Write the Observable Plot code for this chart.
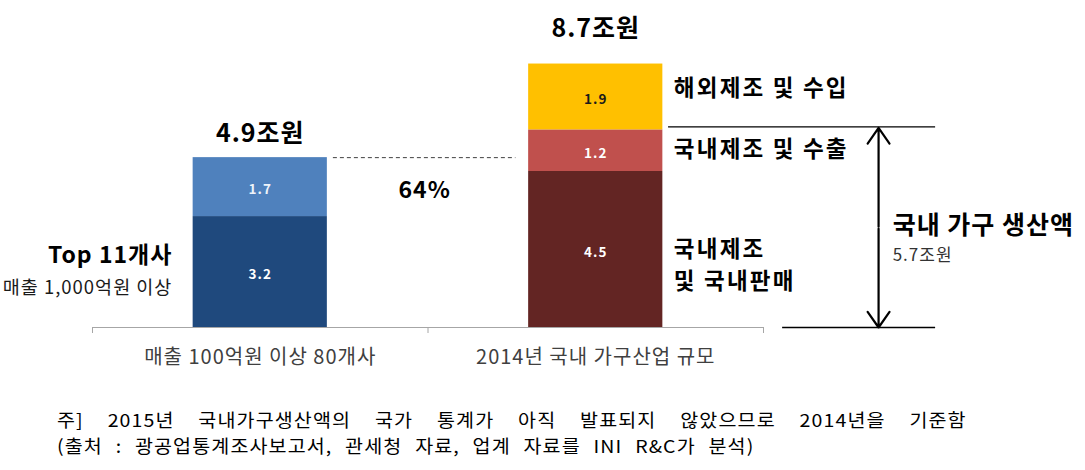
<!DOCTYPE html>
<html><head><meta charset="utf-8">
<script src="https://cdn.jsdelivr.net/npm/d3@7"></script>
<script src="https://cdn.jsdelivr.net/npm/@observablehq/plot@0.6"></script>
<style>
body{margin:0;background:#fff;font-family:"Noto Sans CJK KR","Noto Sans",sans-serif;}
#wrap{position:relative;width:1085px;height:470px;overflow:hidden;}
.note{position:absolute;left:57px;font-size:17.8px;letter-spacing:1px;color:#000;text-align:justify;text-align-last:justify;line-height:26px;height:26px;white-space:nowrap;transform:scaleX(1.1);transform-origin:0 0;}
</style></head><body>
<div id="wrap"><div id="chart"></div>
<div class="note" id="n1" style="top:406px;width:827px"></div>
<div class="note" id="n2" style="top:432px;width:634px"></div>
</div>
<script>
// ---- data ----
const categories = ["매출 100억원 이상 80개사", "2014년 국내 가구산업 규모"];
const leftSegments = ["Top 11개사", "기타"];
const leftValues = [3.2, 1.7];
const rightSegments = ["국내제조 및 국내판매", "국내제조 및 수출", "해외제조 및 수입"];
const rightSegmentLabels = ["국내제조\n및 국내판매", "국내제조 및 수출", "해외제조 및 수입"];
const rightValues = [4.5, 1.2, 1.9];
const totalLabels = ["4.9조원", "8.7조원"];
const shareLabel = "64%";
const topLabel = "Top 11개사";
const topSubLabel = "매출 1,000억원 이상";
const domesticLabel = "국내 가구 생산액";
const domesticValueLabel = "5.7조원";
const noteLines = [
  "주] 2015년 국내가구생산액의 국가 통계가 아직 발표되지 않았으므로 2014년을 기준함",
  "(출처 : 광공업통계조사보고서, 관세청 자료, 업계 자료를 INI R&C가 분석)"
];

// ---- styles ----
const leftColors = ["#1F497D", "#4F81BD"];
const leftInk = ["#ffffff", "#eef3fa"];
const rightColors = ["#632523", "#C0504D", "#FFC000"];
const rightInk = ["#ffffff", "#ffffff", "#1a1a1a"];
const rightLabelDy = [13, -4, -11];
const FONT = '"Noto Sans CJK KR","Noto Sans",sans-serif';
const BAR_LO = 0.3, BAR_HI = 0.7;

function stack(cat, names, values, colors, ink) {
  let acc = 0;
  return values.map((v, i) => { const y1 = acc; acc += v;
    return {cat, name: names[i], value: v, y1, y2: acc, fill: colors[i], ink: ink[i], idx: i}; });
}
const leftRows = stack(0, leftSegments, leftValues, leftColors, leftInk);
const rightRows = stack(1, rightSegments, rightValues, rightColors, rightInk);
const rows = leftRows.concat(rightRows);
const leftTop = d3.sum(leftValues);
const rightTop = d3.sum(rightValues);
const domestic = rightValues[0] + rightValues[1];

const chart = Plot.plot({
  width: 1085, height: 385,
  marginLeft: 92, marginRight: 322, marginTop: 15, marginBottom: 58,
  x: {domain: [0, 2], label: null},
  y: {domain: [0, 9], axis: null},
  color: {type: "identity"},
  style: {fontFamily: FONT, background: "transparent", overflow: "visible", letterSpacing: "1px"},
  marks: [
    Plot.rectY(rows, {x1: d => d.cat + BAR_LO, x2: d => d.cat + BAR_HI, y1: "y1", y2: "y2", fill: "fill"}),
    Plot.ruleY([0], {stroke: "#a6a6a6", strokeWidth: 1.2}),
    Plot.axisX({ticks: [0, 1, 2], tickFormat: () => "", tickSize: 6, stroke: "#a6a6a6", label: null}),
    Plot.text(categories, {x: (d, i) => i + 0.5, y: 0, dy: 30, text: d => d, fontSize: 20, fill: "#404040"}),
    // segment values
    Plot.text(rows, {x: d => d.cat + 0.5, y: d => (d.y1 + d.y2) / 2, dy: 3, text: d => d.value.toFixed(1),
      fill: "ink", fontSize: 13.5, fontWeight: "bold"}),
    // totals
    Plot.text([totalLabels[0]], {x: 0.5, y: leftTop, dy: -24, text: d => d, fontSize: 25, fontWeight: "bold", fill: "#000"}),
    Plot.text([totalLabels[1]], {x: 1.5, y: rightTop, dy: -35, text: d => d, fontSize: 25, fontWeight: "bold", fill: "#000"}),
    // dashed connector and share
    Plot.ruleY([leftTop], {x1: 0.718, x2: 1.262, stroke: "#404040", strokeDasharray: "4,3", strokeWidth: 1}),
    Plot.text([shareLabel], {x: 0.99, y: leftTop, dy: 33, text: d => d, fontSize: 23, fontWeight: "bold", fill: "#000"}),
    // left annotation
    Plot.text([topLabel], {x: 0.238, y: leftRows[0].y2 / 2, dy: -16, text: d => d, textAnchor: "end", fontSize: 23, fontWeight: "bold", fill: "#000"}),
    Plot.text([topSubLabel], {x: 0.238, y: leftRows[0].y2 / 2, dy: 16, text: d => d, textAnchor: "end", fontSize: 18.5, fill: "#1a1a1a"}),
    // right segment labels
    ...rightRows.map((r, i) => Plot.text([rightSegmentLabels[i]], {x: 1 + BAR_HI, y: (r.y1 + r.y2) / 2, dx: 11, dy: rightLabelDy[i],
      text: d => d, textAnchor: "start", fontSize: 22.5, fontWeight: "bold", lineHeight: 1.46, fill: "#000"})),
    // bracket
    Plot.ruleY([domestic], {x1: 1.717, x2: 2.513, stroke: "#000", strokeWidth: 1.3, dy: -3}),
    Plot.ruleY([0], {x1: 2.057, x2: 2.513, stroke: "#000", strokeWidth: 1.3}),
    Plot.arrow([0], {x1: 2.343, x2: 2.343, y1: domestic / 2, y2: domestic, dy: -2, stroke: "#000", strokeWidth: 2.2, headLength: 13, headAngle: 70}),
    Plot.arrow([0], {x1: 2.343, x2: 2.343, y1: domestic / 2, y2: 0, stroke: "#000", strokeWidth: 2.2, headLength: 13, headAngle: 70}),
    Plot.text([domesticLabel], {x: 2.385, y: domestic / 2, dy: -3, text: d => d, textAnchor: "start", fontSize: 25, fontWeight: "bold", fill: "#000"}),
    Plot.text([domesticValueLabel], {x: 2.385, y: domestic / 2, dy: 27, text: d => d, textAnchor: "start", fontSize: 17, fill: "#333"})
  ]
});
// wider tracking for the right-hand segment labels
const wideLabels = new Set(rightSegmentLabels.map(l => l.replace("\n", "")));
chart.querySelectorAll("text").forEach(t => { if (wideLabels.has(t.textContent)) t.style.letterSpacing = "2.2px"; });
document.getElementById("chart").appendChild(chart);
document.getElementById("n1").textContent = noteLines[0];
document.getElementById("n2").textContent = noteLines[1];
</script>
</body></html>
